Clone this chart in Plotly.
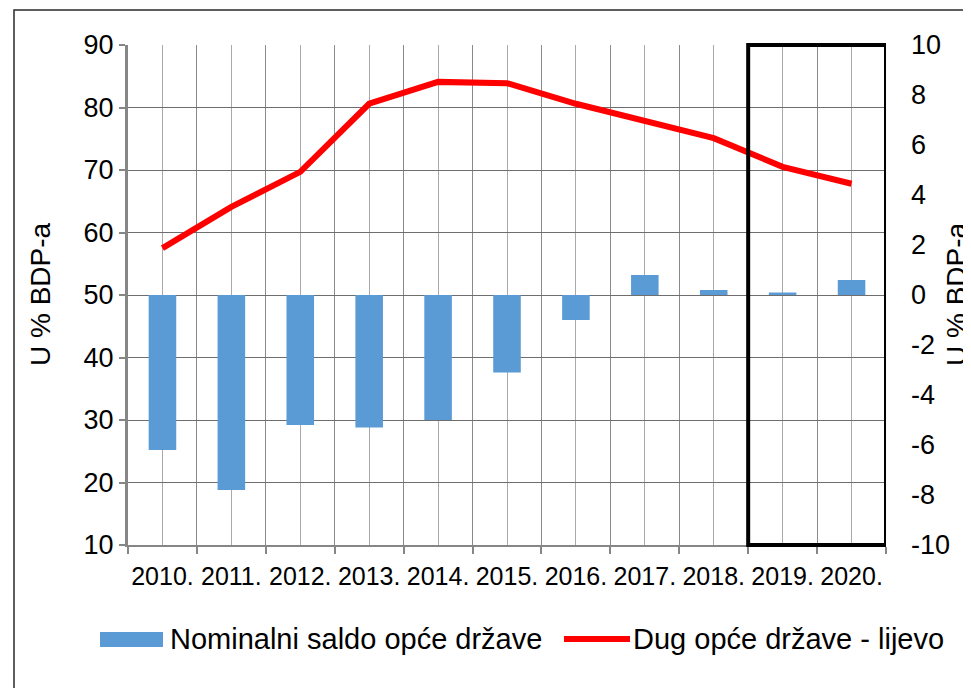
import plotly.graph_objects as go

years = ["2010.", "2011.", "2012.", "2013.", "2014.", "2015.", "2016.", "2017.", "2018.", "2019.", "2020."]
saldo = [-6.2, -7.8, -5.2, -5.3, -5.0, -3.1, -1.0, 0.8, 0.2, 0.1, 0.6]
dug = [57.5, 64.1, 69.7, 80.6, 84.1, 83.9, 80.6, 77.8, 75.1, 70.5, 67.8]
left_ticks = [10, 20, 30, 40, 50, 60, 70, 80, 90]
right_ticks = [-10, -8, -6, -4, -2, 0, 2, 4, 6, 8, 10]
right_tick_labels = ["-10", "-8", "-6", "-4", "-2", "0", "2", "4", "6", "8", "10"]
name_saldo = "Nominalni saldo opće države"
name_dug = "Dug opće države - lijevo"
axis_title = "U % BDP-a"
highlight_years = ["2019.", "2020."]

FONT = "Liberation Sans, Arial, sans-serif"
OFF = 8  # page body margin of the browser
W, H = 971 - OFF, 688 - OFF
ML, MR, MT, MB = 128 - OFF, 85, 45 - OFF, 143
PW, PH = W - ML - MR, H - MT - MB


def px(xs):
    """screen x pixel -> paper x"""
    return (xs - OFF - ML) / PW


def py(ys):
    """screen y pixel -> paper y"""
    return (H - MB - (ys - OFF)) / PH


xs = list(range(len(years)))

fig = go.Figure()
fig.add_trace(go.Bar(x=xs, y=saldo, yaxis="y2", name=name_saldo, width=0.4,
                     marker=dict(color="#5B9BD5", line=dict(width=0)), showlegend=False))
fig.add_trace(go.Scatter(x=xs, y=dug, yaxis="y", name=name_dug, mode="lines",
                         line=dict(color="#FF0000", width=6), showlegend=False))

i0 = years.index(highlight_years[0])
i1 = years.index(highlight_years[-1])

shapes = [
    dict(type="rect", xref="x", yref="paper", x0=i0 - 0.5, x1=i1 + 0.5, y0=0, y1=1,
         line=dict(color="black", width=4), layer="above"),
    dict(type="rect", xref="paper", yref="paper", x0=px(14), x1=px(1100), y0=py(800), y1=py(10),
         line=dict(color="#2a2a2a", width=1.5), layer="below"),
    dict(type="rect", xref="paper", yref="paper", x0=px(100), x1=px(163), y0=py(647), y1=py(632),
         fillcolor="#5B9BD5", line=dict(width=0)),
    dict(type="line", xref="paper", yref="paper", x0=px(564), x1=px(630), y0=py(639), y1=py(639),
         line=dict(color="#FF0000", width=6)),
]

annotations = [
    dict(text=axis_title, xref="paper", yref="paper", x=px(40), y=py(294), textangle=-90,
         showarrow=False, font=dict(size=28, family=FONT, color="black"), xanchor="center", yanchor="middle"),
    dict(text=axis_title, xref="paper", yref="paper", x=px(956), y=py(294), textangle=-90,
         showarrow=False, font=dict(size=28, family=FONT, color="black"), xanchor="center", yanchor="middle"),
    dict(text=name_saldo, xref="paper", yref="paper", x=px(168), y=py(639), showarrow=False,
         font=dict(size=29, family=FONT, color="black"), xanchor="left", yanchor="middle"),
    dict(text=name_dug, xref="paper", yref="paper", x=px(631), y=py(639), showarrow=False,
         font=dict(size=29, family=FONT, color="black"), xanchor="left", yanchor="middle"),
]

fig.update_layout(
    width=W, height=H,
    margin=dict(l=ML, r=MR, t=MT, b=MB, pad=0),
    paper_bgcolor="white", plot_bgcolor="white",
    font=dict(family=FONT, color="black"),
    showlegend=False,
    xaxis=dict(range=[-0.5, len(years) - 0.5], tickvals=xs, ticktext=years,
               ticks="", ticklabelstandoff=8, tickfont=dict(size=25),
               showgrid=True, gridcolor="#a9a9a9", gridwidth=1,
               showline=True, linecolor="#868686", linewidth=2, zeroline=False,
               minor=dict(tickvals=[i - 0.5 for i in range(len(years) + 1)], ticks="outside",
                          ticklen=7, tickwidth=2, tickcolor="#868686",
                          showgrid=True, gridcolor="#8a8a8a", gridwidth=1)),
    yaxis=dict(range=[left_ticks[0], left_ticks[-1]], tickvals=left_ticks, ticks="outside",
               ticklen=6, tickwidth=2, tickcolor="#868686", tickfont=dict(size=27),
               showgrid=True, gridcolor="#6e6e6e", gridwidth=1,
               showline=True, linecolor="#868686", linewidth=3, zeroline=False),
    yaxis2=dict(range=[right_ticks[0], right_ticks[-1]], tickvals=right_ticks,
                ticktext=right_tick_labels, overlaying="y", side="right",
                showgrid=False, zeroline=False, showline=False, ticks="",
                ticklabelstandoff=24, tickfont=dict(size=27)),
    shapes=shapes,
    annotations=annotations,
)

fig.write_html("out.html")
